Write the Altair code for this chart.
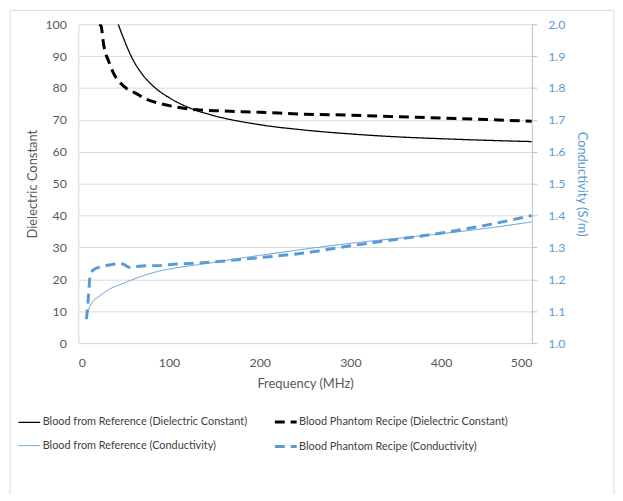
import altair as alt
import pandas as pd

# ---- data ----
series_names = [
    "Blood from Reference (Dielectric Constant)",
    "Blood Phantom Recipe (Dielectric Constant)",
    "Blood from Reference (Conductivity)",
    "Blood Phantom Recipe (Conductivity)",
]

ref_diel_freq = [44, 50, 60, 70, 85, 100, 125, 150, 200, 250, 300, 350, 400, 450, 500]
ref_diel_val = [100, 95.5, 89, 84.5, 80, 77, 73.5, 71.3, 68.5, 66.8, 65.6, 64.7, 64.1, 63.6, 63.2]

ph_diel_freq = [23, 25, 28, 34, 40, 45, 55, 63, 75, 88, 105, 125, 150, 200, 250, 300, 350, 400, 450, 500]
ph_diel_val = [100, 99.5, 93.5, 88, 84, 82, 79.5, 78.4, 76.5, 75.3, 74.2, 73.3, 72.9, 72.4, 71.8, 71.5, 71.0, 70.6, 70.1, 69.6]

ref_cond_freq = [9, 12, 16, 23, 35, 52, 70, 88, 110, 143, 175, 200, 250, 300, 350, 400, 450, 500]
ref_cond_val = [1.075, 1.11, 1.13, 1.147, 1.17, 1.19, 1.21, 1.225, 1.237, 1.25, 1.265, 1.275, 1.295, 1.313, 1.328, 1.343, 1.36, 1.38]

ph_cond_freq = [9, 11, 13, 16, 25, 34, 45, 50, 56, 70, 88, 105, 125, 150, 200, 250, 300, 350, 400, 450, 500]
ph_cond_val = [1.075, 1.14, 1.21, 1.228, 1.24, 1.245, 1.249, 1.247, 1.238, 1.242, 1.243, 1.247, 1.25, 1.255, 1.268, 1.283, 1.305, 1.325, 1.345, 1.37, 1.40]

x_ticks = [0, 100, 200, 300, 400, 500]
left_ticks = [0, 10, 20, 30, 40, 50, 60, 70, 80, 90, 100]
right_ticks = [1.0, 1.1, 1.2, 1.3, 1.4, 1.5, 1.6, 1.7, 1.8, 1.9, 2.0]

# ---- styles ----
# legend is laid out column by column, so order the domain to read row by row
legend_order = [series_names[0], series_names[2], series_names[1], series_names[3]]
order_colors = ["#000000", "#5B9BD5", "#000000", "#5B9BD5"]
order_dashes = [[1, 0], [1, 0], [10, 6], [10, 6]]
order_widths = [1.3, 1.0, 3, 3]
BLUE = "#5B9BD5"
FONT = "Lato"


def frame_of(freqs, vals, name):
    return pd.DataFrame({"freq": freqs, "value": vals, "series": name})


df_diel = pd.concat([
    frame_of(ref_diel_freq, ref_diel_val, series_names[0]),
    frame_of(ph_diel_freq, ph_diel_val, series_names[1]),
])
df_cond = pd.concat([
    frame_of(ref_cond_freq, ref_cond_val, series_names[2]),
    frame_of(ph_cond_freq, ph_cond_val, series_names[3]),
])

x_enc = alt.X(
    "freq:Q",
    scale=alt.Scale(domain=[0, 500], nice=False),
    axis=alt.Axis(values=x_ticks, ticks=False, labelPadding=14, grid=False,
                  title="Frequency (MHz)", titlePadding=8),
)
color_enc = alt.Color("series:N", scale=alt.Scale(domain=legend_order, range=order_colors),
                      sort=legend_order, title=None)
dash_enc = alt.StrokeDash("series:N", scale=alt.Scale(domain=legend_order, range=order_dashes),
                          sort=legend_order, title=None)
width_enc = alt.StrokeWidth("series:N",
                            scale=alt.Scale(type="ordinal", domain=legend_order, range=order_widths),
                            sort=legend_order, title=None)

diel = alt.Chart(df_diel).mark_line(interpolate="monotone", clip=True).encode(
    x=x_enc,
    y=alt.Y("value:Q", scale=alt.Scale(domain=[0, 100], nice=False),
            axis=alt.Axis(values=left_ticks, ticks=False, labelPadding=12, grid=True,
                          title="Dielectric Constant", titlePadding=5)),
    color=color_enc, strokeDash=dash_enc, strokeWidth=width_enc,
)

cond = alt.Chart(df_cond).mark_line(interpolate="monotone", clip=True).encode(
    x=x_enc,
    y=alt.Y("value:Q", scale=alt.Scale(domain=[1, 2], nice=False),
            axis=alt.Axis(values=right_ticks, orient="right", format=".1f", ticks=True, tickSize=5,
                          tickColor="#BFBFBF", domainColor="#BFBFBF", labelPadding=11, grid=False,
                          labelColor=BLUE, titleColor=BLUE, title="Conductivity (S/m)", titlePadding=10)),
    color=color_enc, strokeDash=dash_enc, strokeWidth=width_enc,
)

frame = alt.Chart(pd.DataFrame({"a": [0]})).mark_rect(
    fill=None, stroke="#D9D9D9", strokeWidth=1
).encode(x=alt.value(-69), x2=alt.value(541), y=alt.value(-14), y2=alt.value(520))

chart = alt.layer(frame, diel, cond).resolve_scale(y="independent").properties(
    width=458, height=322,
    autosize=alt.AutoSizeParams(type="none"),
    padding={"left": 71, "top": 14, "right": 84, "bottom": 150},
).configure_view(stroke=None).configure_axis(
    labelFont=FONT, labelFontSize=12.5, labelColor="#595959",
    titleFont=FONT, titleFontSize=13, titleFontWeight="normal", titleColor="#595959",
    gridColor="#D9D9D9", domainColor="#D9D9D9",
).configure_legend(
    orient="none", legendX=-62, legendY=389, columns=2, columnPadding=21,
    symbolType="stroke", symbolSize=484, labelFont=FONT, labelFontSize=11,
    labelColor="#404040", rowPadding=6, labelOffset=1, labelLimit=400,
)

chart.save("out.html", embed_options={"renderer": "svg", "actions": False})
